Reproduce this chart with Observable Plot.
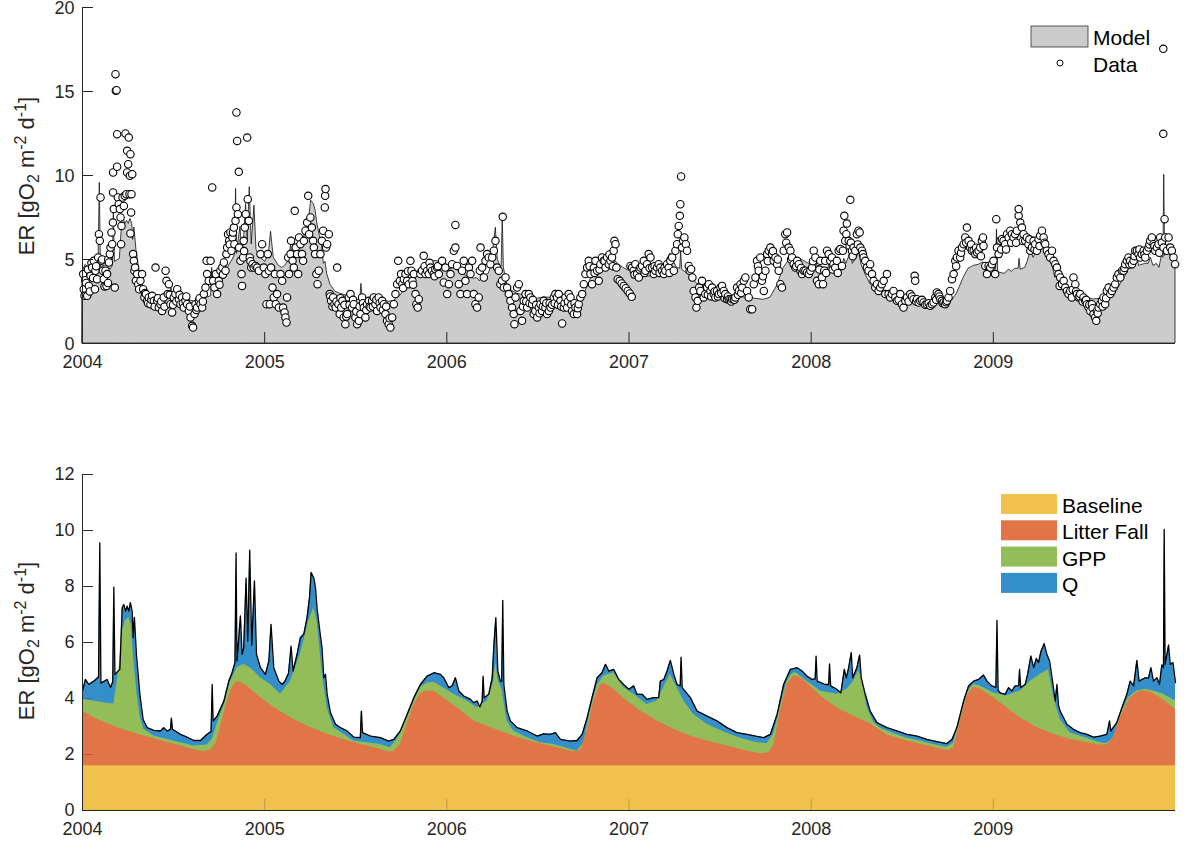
<!DOCTYPE html>
<html>
<head>
<meta charset="utf-8">
<script src="https://cdn.jsdelivr.net/npm/d3@7"></script>
<script src="https://cdn.jsdelivr.net/npm/@observablehq/plot@0.6"></script>
<style>
  body { margin: 0; background: #fff; }
  #wrap { position: relative; width: 1200px; height: 849px; overflow: hidden; }
  #wrap svg { position: absolute; left: 0; }
</style>
</head>
<body>
<div id="wrap"></div>
<script>
// Ecosystem respiration (ER), daily, 2004–2009. Time is given in decimal years.
const years = [2004, 2005, 2006, 2007, 2008, 2009];
const period = [2004, 2010];
const topTicks = [0, 5, 10, 15, 20];
const bottomTicks = [0, 2, 4, 6, 8, 10, 12];

// Modelled total ER (= Baseline + Litter Fall + GPP + Q), [year, gO2 m-2 d-1]
const modelTotal = [
  [2004.000,4.27],[2004.016,4.68],[2004.035,4.50],[2004.062,4.62],[2004.088,4.77],[2004.095,9.56],[2004.101,4.55],[2004.135,4.68],[2004.154,4.39],[2004.166,4.60],
  [2004.172,7.98],[2004.178,4.86],[2004.205,5.04],[2004.218,7.24],[2004.227,7.36],[2004.236,7.12],[2004.245,7.30],[2004.254,7.12],[2004.263,7.42],[2004.273,7.10],
  [2004.278,6.17],[2004.285,6.90],[2004.296,5.58],[2004.315,4.15],[2004.333,3.25],[2004.355,2.96],[2004.392,2.86],[2004.428,2.84],[2004.446,2.96],[2004.465,2.84],
  [2004.483,2.90],[2004.488,3.30],[2004.494,2.90],[2004.538,2.72],[2004.574,2.62],[2004.611,2.50],[2004.648,2.50],[2004.684,2.72],[2004.706,2.82],[2004.712,4.50],
  [2004.717,3.20],[2004.739,3.37],[2004.776,3.90],[2004.803,4.62],[2004.821,4.92],[2004.837,5.28],[2004.843,9.20],[2004.848,5.34],[2004.867,6.95],[2004.876,5.58],
  [2004.885,5.80],[2004.898,8.30],[2004.907,6.05],[2004.918,9.30],[2004.929,5.90],[2004.944,8.20],[2004.955,5.58],[2004.977,5.10],[2005.004,4.86],[2005.023,5.34],
  [2005.035,6.65],[2005.050,5.10],[2005.078,4.62],[2005.096,4.50],[2005.110,4.60],[2005.131,4.90],[2005.145,5.87],[2005.156,4.98],[2005.178,5.58],[2005.196,6.17],
  [2005.215,6.30],[2005.233,6.90],[2005.246,7.60],[2005.255,8.50],[2005.270,8.30],[2005.279,7.96],[2005.288,7.20],[2005.303,6.40],[2005.315,5.80],[2005.325,4.74],
  [2005.334,4.86],[2005.343,4.15],[2005.361,3.50],[2005.389,3.08],[2005.416,2.96],[2005.453,2.84],[2005.489,2.62],[2005.525,2.60],[2005.531,3.55],[2005.537,2.78],
  [2005.581,2.66],[2005.636,2.60],[2005.681,2.48],[2005.709,2.54],[2005.745,2.84],[2005.782,3.43],[2005.819,4.03],[2005.855,4.50],[2005.892,4.80],[2005.930,4.92],
  [2005.965,4.86],[2005.983,4.74],[2006.011,4.39],[2006.029,4.45],[2006.047,4.74],[2006.066,4.27],[2006.093,4.09],[2006.130,3.97],[2006.148,3.85],[2006.166,3.91],
  [2006.181,3.70],[2006.194,3.90],[2006.199,4.80],[2006.205,4.03],[2006.230,4.15],[2006.249,4.74],[2006.258,5.87],[2006.269,6.89],[2006.280,4.98],[2006.294,4.62],
  [2006.301,4.60],[2006.307,7.50],[2006.313,4.50],[2006.331,3.55],[2006.349,3.20],[2006.386,2.96],[2006.441,2.84],[2006.496,2.66],[2006.532,2.74],[2006.569,2.72],
  [2006.596,2.78],[2006.624,2.54],[2006.679,2.48],[2006.715,2.50],[2006.743,2.72],[2006.770,3.31],[2006.797,4.03],[2006.825,4.74],[2006.852,4.92],[2006.871,5.22],
  [2006.889,4.98],[2006.916,5.04],[2006.944,4.68],[2006.971,4.50],[2006.999,4.33],[2007.026,4.45],[2007.044,4.15],[2007.072,4.15],[2007.099,3.97],[2007.136,4.03],
  [2007.163,4.03],[2007.172,4.62],[2007.191,4.68],[2007.209,4.98],[2007.227,5.36],[2007.246,4.86],[2007.264,4.50],[2007.281,4.45],[2007.286,5.48],[2007.292,4.39],
  [2007.337,4.03],[2007.374,3.55],[2007.429,3.37],[2007.483,3.20],[2007.538,2.96],[2007.593,2.78],[2007.648,2.72],[2007.694,2.66],[2007.740,2.60],[2007.776,2.72],
  [2007.813,3.43],[2007.849,4.50],[2007.886,5.04],[2007.923,5.10],[2007.950,4.98],[2007.977,4.80],[2008.005,4.68],[2008.022,4.70],[2008.027,5.51],[2008.033,4.62],
  [2008.077,4.50],[2008.096,4.50],[2008.101,5.24],[2008.107,4.45],[2008.141,4.33],[2008.163,4.20],[2008.182,5.04],[2008.193,4.74],[2008.206,5.10],[2008.220,5.64],
  [2008.228,4.74],[2008.251,5.10],[2008.266,5.55],[2008.275,4.74],[2008.297,4.15],[2008.324,3.55],[2008.361,3.14],[2008.416,2.96],[2008.471,2.84],[2008.526,2.72],
  [2008.581,2.66],[2008.635,2.54],[2008.690,2.46],[2008.745,2.39],[2008.773,2.54],[2008.800,2.96],[2008.837,3.91],[2008.864,4.45],[2008.892,4.62],[2008.919,4.68],
  [2008.946,4.84],[2008.965,4.62],[2008.992,4.45],[2009.014,4.40],[2009.020,6.79],[2009.026,4.30],[2009.038,4.20],[2009.065,4.15],[2009.084,4.39],[2009.102,4.27],
  [2009.120,4.45],[2009.139,4.45],[2009.144,5.04],[2009.150,4.39],[2009.175,4.50],[2009.188,4.86],[2009.206,5.52],[2009.221,5.10],[2009.236,5.43],[2009.248,5.28],
  [2009.261,5.67],[2009.279,5.96],[2009.294,5.58],[2009.309,5.34],[2009.325,4.62],[2009.340,3.91],[2009.349,4.50],[2009.358,3.75],[2009.367,3.55],[2009.404,3.08],
  [2009.440,2.90],[2009.477,2.78],[2009.514,2.72],[2009.550,2.62],[2009.587,2.66],[2009.623,2.72],[2009.638,3.20],[2009.645,2.84],[2009.678,3.14],[2009.706,3.67],
  [2009.733,4.15],[2009.751,4.62],[2009.770,4.45],[2009.788,5.36],[2009.800,4.62],[2009.834,4.74],[2009.852,4.74],[2009.865,5.10],[2009.879,4.62],[2009.898,4.74],
  [2009.912,4.50],[2009.925,5.20],[2009.934,5.10],[2009.938,10.04],[2009.943,5.22],[2009.962,5.91],[2009.971,5.22],[2009.986,5.28],[2010.000,4.57]
];

// Upper edge of the Baseline + Litter Fall + GPP layers
const gppUpper = [
  [2004.000,3.97],[2004.117,3.85],[2004.172,3.80],[2004.199,4.98],[2004.218,6.40],[2004.236,6.77],[2004.254,6.90],[2004.267,6.65],[2004.282,5.34],[2004.300,4.15],
  [2004.318,3.30],[2004.337,2.90],[2004.392,2.66],[2004.465,2.54],[2004.538,2.42],[2004.611,2.30],[2004.684,2.34],[2004.712,2.54],[2004.739,3.08],[2004.776,3.75],
  [2004.812,4.60],[2004.849,5.10],[2004.885,5.22],[2004.922,5.10],[2004.977,4.74],[2005.032,4.50],[2005.087,4.15],[2005.142,4.62],[2005.196,5.58],[2005.242,6.77],
  [2005.270,7.24],[2005.288,6.77],[2005.315,4.98],[2005.343,3.67],[2005.379,2.96],[2005.434,2.72],[2005.489,2.48],[2005.562,2.42],[2005.636,2.36],[2005.690,2.24],
  [2005.727,2.54],[2005.782,3.30],[2005.819,3.90],[2005.855,4.39],[2005.892,4.55],[2005.930,4.58],[2005.965,4.45],[2006.038,4.15],[2006.111,3.91],[2006.166,3.67],
  [2006.221,3.91],[2006.258,4.62],[2006.269,5.30],[2006.280,4.70],[2006.303,4.30],[2006.331,3.20],[2006.367,2.84],[2006.441,2.60],[2006.514,2.42],[2006.587,2.36],
  [2006.660,2.22],[2006.715,2.12],[2006.752,2.42],[2006.788,3.55],[2006.825,4.45],[2006.861,4.80],[2006.916,4.92],[2006.971,4.39],[2007.026,4.15],[2007.099,3.79],
  [2007.154,3.91],[2007.191,4.39],[2007.227,4.86],[2007.264,4.39],[2007.301,3.91],[2007.355,3.43],[2007.429,3.08],[2007.520,2.80],[2007.612,2.58],[2007.703,2.42],
  [2007.758,2.39],[2007.794,2.72],[2007.849,4.15],[2007.868,4.62],[2007.886,4.80],[2007.905,4.92],[2007.923,4.89],[2007.977,4.62],[2008.050,4.27],[2008.141,4.15],
  [2008.196,4.33],[2008.233,4.62],[2008.260,4.98],[2008.279,4.70],[2008.306,3.70],[2008.343,3.15],[2008.379,2.94],[2008.452,2.75],[2008.526,2.58],[2008.599,2.48],
  [2008.672,2.36],[2008.745,2.26],[2008.782,2.40],[2008.818,3.31],[2008.855,4.20],[2008.892,4.50],[2008.928,4.45],[2009.001,4.20],[2009.075,4.09],[2009.148,4.27],
  [2009.203,4.62],[2009.257,4.86],[2009.303,5.04],[2009.331,4.05],[2009.367,3.25],[2009.422,2.78],[2009.514,2.58],[2009.587,2.42],[2009.623,2.39],[2009.660,2.60],
  [2009.697,3.40],[2009.742,4.03],[2009.788,4.27],[2009.834,4.33],[2009.879,4.27],[2009.934,4.15],[2010.000,3.91]
];

// Upper edge of the Baseline + Litter Fall layers
const litterUpper = [
  [2004.000,3.55],[2004.062,3.31],[2004.154,3.05],[2004.245,2.84],[2004.337,2.66],[2004.428,2.50],[2004.520,2.34],[2004.611,2.18],[2004.666,2.10],[2004.703,2.15],
  [2004.730,2.36],[2004.757,2.96],[2004.785,3.67],[2004.812,4.27],[2004.840,4.57],[2004.858,4.60],[2004.904,4.45],[2004.977,4.03],[2005.068,3.61],[2005.160,3.25],
  [2005.251,2.96],[2005.343,2.72],[2005.434,2.54],[2005.526,2.36],[2005.617,2.22],[2005.681,2.09],[2005.709,2.12],[2005.745,2.36],[2005.782,3.08],[2005.819,3.79],
  [2005.855,4.17],[2005.892,4.27],[2005.928,4.27],[2005.975,4.05],[2006.060,3.65],[2006.148,3.20],[2006.239,2.96],[2006.331,2.74],[2006.422,2.54],[2006.514,2.39],
  [2006.605,2.24],[2006.697,2.10],[2006.733,2.14],[2006.770,2.84],[2006.807,3.91],[2006.843,4.51],[2006.871,4.53],[2006.916,4.33],[2006.989,3.91],[2007.063,3.55],
  [2007.154,3.20],[2007.246,2.90],[2007.337,2.66],[2007.429,2.48],[2007.520,2.34],[2007.612,2.18],[2007.721,2.03],[2007.767,2.06],[2007.794,2.30],[2007.831,3.55],
  [2007.868,4.51],[2007.904,4.80],[2007.932,4.77],[2007.977,4.56],[2008.050,4.10],[2008.141,3.67],[2008.233,3.37],[2008.324,3.10],[2008.416,2.70],[2008.507,2.52],
  [2008.599,2.37],[2008.690,2.22],[2008.754,2.13],[2008.782,2.24],[2008.818,3.15],[2008.855,4.09],[2008.892,4.41],[2008.928,4.33],[2009.001,4.03],[2009.075,3.67],
  [2009.148,3.31],[2009.239,2.96],[2009.331,2.72],[2009.422,2.54],[2009.514,2.42],[2009.587,2.34],[2009.623,2.34],[2009.660,2.60],[2009.697,3.31],[2009.751,4.03],
  [2009.806,4.27],[2009.861,4.24],[2009.916,4.03],[2010.000,3.61]
];

// Constant baseline respiration
const baselineER = 1.6;

// Observed daily ER, one array per year
const obs2004 = [
  [2004.004,4.13],[2004.007,3.23],[2004.011,2.84],[2004.016,3.77],[2004.020,3.60],[2004.026,2.84],[2004.030,4.40],[2004.035,3.43],[2004.040,3.10],[2004.044,4.03],
  [2004.049,4.80],[2004.053,4.52],[2004.058,3.90],[2004.062,4.92],[2004.068,3.23],[2004.071,4.33],[2004.075,4.60],[2004.080,3.83],[2004.086,5.12],[2004.090,6.51],
  [2004.095,6.11],[2004.099,8.69],[2004.104,4.92],[2004.108,5.00],[2004.112,4.33],[2004.117,3.83],[2004.121,3.40],[2004.126,4.33],[2004.132,3.43],[2004.135,4.13],
  [2004.140,3.60],[2004.141,5.00],[2004.145,4.82],[2004.150,5.32],[2004.154,5.71],[2004.159,6.61],[2004.163,5.91],[2004.167,7.20],[2004.168,8.99],[2004.168,10.18],
  [2004.172,8.00],[2004.177,3.33],[2004.181,16.03],[2004.183,15.04],[2004.187,15.08],[2004.190,12.46],[2004.190,10.52],[2004.194,8.69],[2004.199,8.29],[2004.205,8.00],
  [2004.209,7.50],[2004.212,5.91],[2004.214,7.00],[2004.220,8.69],[2004.227,8.19],[2004.232,8.79],[2004.236,12.50],[2004.241,8.89],[2004.245,11.47],[2004.245,10.18],
  [2004.251,10.67],[2004.254,12.26],[2004.258,8.89],[2004.260,9.98],[2004.263,11.27],[2004.267,7.80],[2004.269,8.89],[2004.273,10.08],[2004.263,6.55],[2004.278,5.32],
  [2004.282,4.92],[2004.285,4.33],[2004.289,4.52],[2004.293,3.73],[2004.300,4.13],[2004.306,3.53],[2004.311,3.23],[2004.318,3.73],[2004.327,4.13],[2004.333,3.23],
  [2004.340,2.74],[2004.343,3.00],[2004.348,2.94],[2004.355,2.54],[2004.360,2.40],[2004.364,2.74],[2004.373,2.34],[2004.378,2.60],[2004.382,2.84],[2004.392,2.54],
  [2004.396,2.20],[2004.401,4.52],[2004.410,2.54],[2004.414,2.70],[2004.419,2.14],[2004.428,2.34],[2004.432,2.50],[2004.437,1.94],[2004.446,2.74],[2004.450,2.20],
  [2004.456,4.33],[2004.461,3.73],[2004.468,2.94],[2004.474,3.53],[2004.479,2.90],[2004.483,2.34],[2004.492,1.85],[2004.497,2.30],[2004.501,2.74],[2004.510,2.94],
  [2004.515,2.50],[2004.520,3.23],[2004.529,2.64],[2004.533,2.90],[2004.538,2.34],[2004.547,2.74],[2004.551,2.40],[2004.556,2.14],[2004.565,2.54],[2004.570,2.80],
  [2004.574,2.34],[2004.584,1.94],[2004.589,2.20],[2004.593,1.55],[2004.602,1.05],[2004.607,0.95],[2004.615,1.75],[2004.620,2.34],[2004.625,2.00],[2004.629,2.14],
  [2004.639,2.54],[2004.643,2.70],[2004.648,2.34],[2004.657,2.14],[2004.661,2.50],[2004.666,2.94],[2004.675,3.33],[2004.681,4.92],[2004.684,4.13],[2004.693,3.73],
  [2004.703,4.92],[2004.712,9.29],[2004.717,3.73],[2004.724,3.33],[2004.732,4.13],[2004.739,2.94],[2004.748,3.73],[2004.752,3.50],[2004.757,4.33],[2004.767,4.52],
  [2004.771,4.10],[2004.776,4.82],[2004.785,4.33],[2004.790,5.32],[2004.794,5.71],[2004.799,6.51],[2004.805,6.11],[2004.808,5.90],[2004.812,6.61],[2004.818,5.52],
  [2004.823,6.31],[2004.826,6.60],[2004.831,6.90],[2004.834,5.91],[2004.840,7.30],[2004.845,8.10],[2004.845,13.75],[2004.849,12.06],[2004.853,7.70],[2004.858,10.22],
  [2004.860,5.71],[2004.867,4.92],[2004.873,4.13],[2004.876,3.43],[2004.882,5.12],[2004.885,6.11],[2004.887,5.50],[2004.891,6.90],[2004.896,7.70],[2004.904,12.26],
  [2004.907,8.59],[2004.913,7.30],[2004.918,5.12],[2004.922,4.90],[2004.926,4.52],[2004.933,4.72],[2004.940,4.52],[2004.950,4.62],[2004.959,4.52],[2004.968,4.33],
  [2004.977,5.32],[2004.986,5.91],[2004.995,4.52]
];
const obs2005 = [
  [2005.004,4.13],[2005.010,2.34],[2005.017,5.32],[2005.023,4.33],[2005.028,2.34],[2005.035,4.52],[2005.043,3.33],[2005.050,2.74],[2005.056,4.13],[2005.061,2.34],
  [2005.068,2.94],[2005.078,2.14],[2005.087,4.13],[2005.096,3.73],[2005.101,2.14],[2005.109,1.85],[2005.114,1.55],[2005.120,1.25],[2005.123,2.74],[2005.129,5.12],
  [2005.134,4.13],[2005.142,5.32],[2005.145,6.11],[2005.153,4.92],[2005.160,4.52],[2005.165,7.90],[2005.171,5.71],[2005.178,5.32],[2005.184,4.13],[2005.189,6.31],
  [2005.196,5.91],[2005.205,5.32],[2005.211,4.92],[2005.215,6.11],[2005.224,6.71],[2005.233,7.20],[2005.239,8.79],[2005.244,6.51],[2005.251,7.50],[2005.259,6.90],
  [2005.266,6.11],[2005.270,5.71],[2005.277,5.32],[2005.284,4.13],[2005.290,3.53],[2005.297,4.33],[2005.306,5.32],[2005.314,6.11],[2005.321,6.71],[2005.330,8.10],
  [2005.332,8.79],[2005.334,9.19],[2005.337,5.71],[2005.343,5.91],[2005.352,6.51],[2005.357,2.94],[2005.360,2.80],[2005.365,2.54],[2005.372,2.20],[2005.376,2.74],
  [2005.383,2.34],[2005.390,2.14],[2005.394,2.50],[2005.398,4.52],[2005.405,2.34],[2005.412,1.75],[2005.416,2.70],[2005.420,2.14],[2005.427,2.54],[2005.434,1.55],
  [2005.438,2.30],[2005.443,1.15],[2005.448,1.60],[2005.453,1.75],[2005.462,2.74],[2005.466,2.30],[2005.471,2.94],[2005.480,2.14],[2005.485,2.60],[2005.489,2.34],
  [2005.498,1.55],[2005.503,1.90],[2005.508,1.15],[2005.517,1.35],[2005.521,2.20],[2005.526,1.75],[2005.535,2.74],[2005.540,2.40],[2005.544,2.14],[2005.553,1.55],
  [2005.558,2.00],[2005.562,2.34],[2005.572,2.54],[2005.576,2.20],[2005.581,2.14],[2005.590,2.54],[2005.594,2.20],[2005.599,2.74],[2005.608,2.34],[2005.613,2.60],
  [2005.617,1.94],[2005.626,2.74],[2005.631,2.40],[2005.636,2.14],[2005.645,2.54],[2005.649,2.00],[2005.654,2.34],[2005.663,1.75],[2005.667,2.20],[2005.672,1.35],
  [2005.681,1.15],[2005.686,1.50],[2005.690,0.95],[2005.700,1.55],[2005.709,2.34],[2005.718,2.94],[2005.727,3.53],[2005.733,4.92],[2005.742,3.73],[2005.749,4.13],
  [2005.756,3.53],[2005.760,3.30],[2005.764,3.83],[2005.773,4.13],[2005.782,3.73],[2005.787,4.30],[2005.791,3.53],[2005.800,4.92],[2005.806,4.33],[2005.811,3.73],
  [2005.815,3.50],[2005.819,4.13],[2005.828,2.94],[2005.833,2.34],[2005.840,2.14],[2005.846,2.64],[2005.855,4.13],[2005.864,4.33],[2005.873,5.22],[2005.878,4.60],
  [2005.883,4.13],[2005.892,4.33],[2005.901,4.13],[2005.905,4.80],[2005.910,4.52],[2005.919,4.33],[2005.928,4.13],[2005.933,4.00],[2005.937,4.43],[2005.947,4.52],
  [2005.951,4.60],[2005.956,4.13],[2005.974,4.92],[2005.983,3.63],[2005.992,4.52]
];
const obs2006 = [
  [2006.002,2.94],[2006.011,3.53],[2006.020,4.13],[2006.029,4.72],[2006.038,5.52],[2006.047,5.71],[2006.047,7.06],[2006.056,4.62],[2006.066,3.53],[2006.075,2.94],
  [2006.084,4.33],[2006.093,4.92],[2006.102,3.73],[2006.111,2.94],[2006.121,4.52],[2006.130,4.13],[2006.139,4.92],[2006.148,2.94],[2006.157,2.34],[2006.166,2.14],
  [2006.175,2.74],[2006.181,4.33],[2006.185,5.71],[2006.194,4.52],[2006.203,3.93],[2006.212,4.92],[2006.221,5.32],[2006.230,5.12],[2006.239,4.72],[2006.249,5.12],
  [2006.258,5.52],[2006.267,6.11],[2006.276,4.52],[2006.285,4.33],[2006.294,3.53],[2006.303,3.73],[2006.307,7.54],[2006.313,3.33],[2006.322,3.93],[2006.331,3.33],
  [2006.340,2.94],[2006.349,2.54],[2006.358,2.14],[2006.367,1.75],[2006.371,1.15],[2006.377,2.74],[2006.386,3.33],[2006.395,3.53],[2006.404,1.94],[2006.413,1.35],
  [2006.418,2.20],[2006.422,2.54],[2006.432,2.94],[2006.436,2.50],[2006.441,2.14],[2006.450,2.94],[2006.454,2.40],[2006.459,2.74],[2006.468,2.34],[2006.472,2.60],
  [2006.477,1.75],[2006.486,1.94],[2006.490,2.30],[2006.496,1.55],[2006.505,2.14],[2006.509,1.80],[2006.514,2.34],[2006.523,1.94],[2006.527,2.20],[2006.532,2.54],
  [2006.541,2.14],[2006.546,2.40],[2006.550,1.75],[2006.560,1.94],[2006.564,2.40],[2006.569,2.14],[2006.578,2.30],[2006.587,2.74],[2006.592,2.40],[2006.596,2.94],
  [2006.605,2.74],[2006.610,2.30],[2006.614,2.94],[2006.624,2.54],[2006.628,2.20],[2006.633,1.19],[2006.642,2.14],[2006.646,2.40],[2006.651,2.74],[2006.660,2.14],
  [2006.665,2.50],[2006.669,2.94],[2006.679,2.74],[2006.683,2.30],[2006.688,1.94],[2006.697,1.75],[2006.701,2.40],[2006.706,2.14],[2006.715,1.75],[2006.719,2.10],
  [2006.724,2.34],[2006.733,2.74],[2006.743,2.94],[2006.752,3.53],[2006.761,4.13],[2006.770,4.52],[2006.779,4.92],[2006.784,4.60],[2006.788,4.13],[2006.797,3.53],
  [2006.807,4.52],[2006.811,4.20],[2006.816,4.92],[2006.825,4.33],[2006.834,3.73],[2006.838,4.40],[2006.843,4.72],[2006.852,5.12],[2006.861,4.92],[2006.866,4.90],
  [2006.871,4.52],[2006.880,5.12],[2006.889,4.72],[2006.893,5.30],[2006.898,4.92],[2006.907,5.12],[2006.911,4.60],[2006.916,5.52],[2006.920,6.11],[2006.926,5.91],
  [2006.931,4.52],[2006.938,3.83],[2006.949,3.73],[2006.960,3.57],[2006.971,3.43],[2006.982,3.29],[2006.993,3.13]
];
const obs2007 = [
  [2007.004,2.98],[2007.015,2.78],[2007.008,4.62],[2007.017,4.52],[2007.026,4.33],[2007.030,4.10],[2007.035,4.72],[2007.044,4.13],[2007.054,3.93],[2007.058,4.40],
  [2007.063,4.52],[2007.072,4.62],[2007.081,4.92],[2007.085,4.20],[2007.090,4.33],[2007.099,4.72],[2007.108,5.32],[2007.113,4.50],[2007.118,5.12],[2007.127,4.52],
  [2007.136,4.13],[2007.140,4.60],[2007.145,4.33],[2007.154,4.52],[2007.163,4.72],[2007.168,4.20],[2007.172,4.52],[2007.182,4.33],[2007.191,4.13],[2007.195,4.50],
  [2007.200,4.33],[2007.209,4.72],[2007.218,4.52],[2007.222,4.20],[2007.227,4.92],[2007.237,5.12],[2007.246,4.33],[2007.255,5.52],[2007.264,5.91],[2007.268,6.51],
  [2007.273,7.00],[2007.279,7.60],[2007.282,8.29],[2007.286,9.94],[2007.291,5.71],[2007.297,6.11],[2007.304,6.31],[2007.312,5.91],[2007.319,5.52],[2007.328,4.62],
  [2007.333,4.33],[2007.341,4.42],[2007.348,3.93],[2007.355,3.13],[2007.365,2.74],[2007.370,2.14],[2007.377,2.54],[2007.385,3.33],[2007.392,3.13],[2007.401,3.73],
  [2007.410,2.74],[2007.419,2.94],[2007.429,3.33],[2007.433,2.90],[2007.438,3.53],[2007.447,3.13],[2007.451,2.80],[2007.456,3.33],[2007.465,2.94],[2007.470,3.10],
  [2007.474,2.74],[2007.483,3.13],[2007.488,2.80],[2007.493,2.94],[2007.502,3.33],[2007.506,3.00],[2007.511,3.43],[2007.520,3.13],[2007.525,2.70],[2007.529,2.94],
  [2007.538,2.64],[2007.543,2.80],[2007.548,2.64],[2007.557,2.64],[2007.561,2.50],[2007.566,2.64],[2007.575,2.64],[2007.579,2.60],[2007.584,2.74],[2007.593,3.33],
  [2007.598,2.90],[2007.603,3.13],[2007.612,3.53],[2007.616,3.00],[2007.621,3.33],[2007.630,3.73],[2007.639,3.93],[2007.648,3.13],[2007.657,2.74],[2007.666,2.04],
  [2007.676,2.04],[2007.685,3.53],[2007.694,3.93],[2007.703,4.92],[2007.708,4.60],[2007.712,4.33],[2007.721,5.12],[2007.730,3.73],[2007.735,4.00],[2007.740,3.13],
  [2007.749,4.33],[2007.758,5.32],[2007.762,4.90],[2007.767,5.52],[2007.776,5.71],[2007.785,5.32],[2007.790,5.50],[2007.794,4.92],[2007.804,5.12],[2007.813,4.72],
  [2007.817,5.00],[2007.822,4.33],[2007.831,3.53],[2007.840,3.33],[2007.849,5.52],[2007.858,6.51],[2007.863,6.00],[2007.868,6.61],[2007.877,5.71],[2007.886,5.52],
  [2007.890,5.00],[2007.895,5.12],[2007.904,4.72],[2007.913,4.52],[2007.918,4.60],[2007.923,4.92],[2007.932,4.72],[2007.941,4.33],[2007.945,4.50],[2007.950,4.13],
  [2007.959,4.33],[2007.968,4.33],[2007.977,4.23],[2007.987,4.13],[2007.996,4.33]
];
const obs2008 = [
  [2008.005,4.52],[2008.010,4.90],[2008.014,5.52],[2008.023,5.12],[2008.032,3.73],[2008.042,3.53],[2008.045,4.40],[2008.050,4.92],[2008.059,3.93],[2008.065,3.53],
  [2008.072,4.33],[2008.077,4.92],[2008.082,4.20],[2008.087,5.52],[2008.096,5.32],[2008.105,4.92],[2008.114,5.12],[2008.118,4.40],[2008.123,4.72],[2008.132,4.52],
  [2008.141,4.92],[2008.146,4.20],[2008.151,5.52],[2008.160,5.62],[2008.169,4.62],[2008.174,5.52],[2008.178,6.71],[2008.182,7.60],[2008.187,6.11],[2008.193,6.51],
  [2008.196,7.14],[2008.206,6.11],[2008.211,5.81],[2008.215,8.55],[2008.218,6.01],[2008.224,5.52],[2008.228,5.20],[2008.233,5.71],[2008.242,5.52],[2008.251,6.51],
  [2008.256,5.90],[2008.260,6.71],[2008.266,6.61],[2008.270,5.71],[2008.279,5.52],[2008.284,5.32],[2008.288,5.12],[2008.297,4.92],[2008.306,4.52],[2008.315,4.33],
  [2008.324,4.72],[2008.334,4.13],[2008.343,3.73],[2008.352,3.33],[2008.361,3.53],[2008.370,3.13],[2008.379,3.33],[2008.388,3.53],[2008.398,3.73],[2008.407,2.94],
  [2008.416,4.13],[2008.425,2.94],[2008.434,2.74],[2008.443,2.94],[2008.452,3.13],[2008.462,2.74],[2008.471,2.54],[2008.480,2.60],[2008.489,2.94],[2008.498,2.34],
  [2008.507,2.14],[2008.517,2.54],[2008.526,2.74],[2008.535,2.50],[2008.544,2.94],[2008.553,2.80],[2008.562,2.64],[2008.568,4.03],[2008.571,3.73],[2008.576,2.50],
  [2008.581,2.64],[2008.590,2.44],[2008.599,2.54],[2008.608,2.60],[2008.617,2.44],[2008.626,2.30],[2008.635,2.34],[2008.645,2.40],[2008.654,2.24],[2008.663,2.34],
  [2008.672,2.44],[2008.681,2.74],[2008.686,2.60],[2008.690,3.04],[2008.699,2.94],[2008.704,2.80],[2008.709,2.64],[2008.718,2.54],[2008.722,2.40],[2008.727,2.44],
  [2008.736,2.34],[2008.741,2.45],[2008.745,2.54],[2008.754,2.74],[2008.763,3.13],[2008.773,3.83],[2008.782,4.13],[2008.791,4.92],[2008.796,4.60],[2008.800,5.12],
  [2008.809,5.52],[2008.818,5.12],[2008.823,5.40],[2008.828,5.71],[2008.837,5.91],[2008.846,6.31],[2008.851,6.00],[2008.855,6.90],[2008.864,6.11],[2008.873,5.71],
  [2008.878,5.90],[2008.882,5.52],[2008.892,5.52],[2008.901,5.32],[2008.905,5.70],[2008.910,5.42],[2008.919,5.52],[2008.928,5.71],[2008.932,5.20],[2008.937,6.11],
  [2008.943,6.31],[2008.946,5.81],[2008.956,4.62],[2008.965,4.13],[2008.974,4.62],[2008.983,4.52],[2008.992,4.72]
];
const obs2009 = [
  [2009.001,4.92],[2009.010,4.13],[2009.016,7.40],[2009.020,5.71],[2009.029,5.32],[2009.038,6.11],[2009.043,5.60],[2009.047,6.21],[2009.056,6.11],[2009.065,5.91],
  [2009.070,5.60],[2009.075,6.51],[2009.084,6.31],[2009.093,6.71],[2009.098,6.00],[2009.102,6.51],[2009.111,6.31],[2009.120,6.51],[2009.125,6.00],[2009.129,6.71],
  [2009.139,7.60],[2009.139,8.00],[2009.148,7.20],[2009.157,6.90],[2009.162,6.10],[2009.166,6.51],[2009.175,6.11],[2009.184,6.31],[2009.193,5.91],[2009.198,6.20],
  [2009.203,5.52],[2009.212,5.71],[2009.221,6.11],[2009.226,5.60],[2009.230,5.91],[2009.239,5.52],[2009.248,6.21],[2009.253,5.80],[2009.257,6.41],[2009.267,6.71],
  [2009.276,6.31],[2009.281,6.00],[2009.285,5.91],[2009.294,5.52],[2009.303,5.32],[2009.312,5.12],[2009.322,5.52],[2009.331,4.92],[2009.340,4.72],[2009.349,4.52],
  [2009.358,4.13],[2009.364,3.43],[2009.367,3.93],[2009.377,3.53],[2009.386,3.73],[2009.395,3.33],[2009.404,3.13],[2009.413,2.94],[2009.422,3.13],[2009.431,2.74],
  [2009.436,3.20],[2009.440,3.93],[2009.450,3.53],[2009.454,3.10],[2009.459,2.94],[2009.468,2.74],[2009.473,2.80],[2009.477,2.94],[2009.490,2.50],[2009.495,2.74],
  [2009.504,2.54],[2009.509,2.60],[2009.514,2.34],[2009.523,2.14],[2009.527,2.30],[2009.532,1.94],[2009.541,2.34],[2009.545,2.10],[2009.550,1.75],[2009.559,1.55],
  [2009.565,1.35],[2009.568,1.94],[2009.573,1.80],[2009.578,2.14],[2009.587,2.34],[2009.596,2.54],[2009.600,2.20],[2009.605,2.74],[2009.614,2.34],[2009.619,2.70],
  [2009.623,3.13],[2009.633,3.33],[2009.642,2.94],[2009.651,3.13],[2009.660,3.33],[2009.669,3.53],[2009.678,3.93],[2009.687,4.13],[2009.697,3.93],[2009.706,4.33],
  [2009.715,4.33],[2009.720,4.50],[2009.724,4.72],[2009.733,4.92],[2009.742,5.12],[2009.747,4.70],[2009.751,4.92],[2009.761,4.72],[2009.770,4.92],[2009.775,5.20],
  [2009.779,5.52],[2009.788,5.52],[2009.797,5.32],[2009.802,5.60],[2009.806,5.12],[2009.815,5.32],[2009.825,5.52],[2009.830,5.30],[2009.834,5.12],[2009.843,5.52],
  [2009.852,5.71],[2009.857,5.90],[2009.861,6.11],[2009.870,6.31],[2009.879,5.91],[2009.884,5.80],[2009.889,5.52],[2009.898,5.71],[2009.907,5.91],[2009.911,5.40],
  [2009.916,6.31],[2009.925,6.01],[2009.934,5.71],[2009.933,17.54],[2009.933,12.48],[2009.940,7.40],[2009.944,6.31],[2009.953,5.52],[2009.962,6.31],[2009.971,5.71],
  [2009.980,5.52],[2009.989,5.12],[2009.998,4.72]
];

const layerNames = ["Baseline", "Litter Fall", "GPP", "Q"];
const layerColors = ["#F1C14D", "#E17547", "#92BD59", "#338ECA"];

// ---- drawing ----
const FONT = '"Liberation Sans", Arial, Helvetica, sans-serif';
const INK = "#262626";
const asRows = pairs => pairs.map(([t, v]) => ({t, v}));
const model = asRows(modelTotal);
const observed = asRows([...obs2004, ...obs2005, ...obs2006, ...obs2007, ...obs2008, ...obs2009]);
const gpp = asRows(gppUpper);
const litter = asRows(litterUpper);
const baseline = period.map(t => ({t, v: baselineER}));
const yearFormat = d => String(d);

const common = {
  width: 1200, marginLeft: 82, marginRight: 25,
  style: {fontFamily: FONT, fontSize: "18px", color: INK, background: "transparent", overflow: "visible"},
  x: {domain: period}
};

const topPlot = Plot.plot({
  ...common,
  height: 380, marginTop: 7, marginBottom: 37,
  y: {domain: [0, 20]},
  marks: [
    Plot.areaY(model, {x: "t", y: "v", fill: "#cccccc", stroke: "#111", strokeWidth: 0.8}),
    Plot.dot(observed, {x: "t", y: "v", r: 3.7, fill: "white", stroke: "black", strokeWidth: 1.1}),
    Plot.axisY({ticks: topTicks, tickSize: 0, tickPadding: 8, dy: 1, label: null}),
    Plot.axisY({ticks: topTicks, tickSize: -11, tickFormat: () => "", label: null}),
    Plot.axisX({ticks: years, tickFormat: yearFormat, tickSize: -11, tickPadding: 23, label: null}),
    Plot.ruleY([0], {stroke: INK}),
    Plot.ruleX([period[0]], {stroke: INK})
  ]
});

const bottomPlot = Plot.plot({
  ...common,
  height: 469, marginTop: 94, marginBottom: 39,
  y: {domain: [0, 12]},
  marks: [
    Plot.axisY({ticks: bottomTicks, tickSize: -11, tickPadding: 19, label: null}),
    Plot.axisX({ticks: years, tickFormat: yearFormat, tickSize: -11, tickPadding: 23, label: null}),
    Plot.areaY(model, {x: "t", y: "v", fill: layerColors[3]}),
    Plot.areaY(gpp, {x: "t", y: "v", fill: layerColors[2]}),
    Plot.areaY(litter, {x: "t", y: "v", fill: layerColors[1]}),
    Plot.areaY(baseline, {x: "t", y: "v", fill: layerColors[0]}),
    Plot.lineY(model, {x: "t", y: "v", stroke: "#000", strokeWidth: 1.3}),
    // ticks show faintly through the filled layers
    Plot.axisY({ticks: bottomTicks, tickSize: -11, tickFormat: () => "", strokeOpacity: 0.25, label: null}),
    Plot.axisX({ticks: years, tickSize: -11, tickFormat: () => "", strokeOpacity: 0.25, label: null}),
    Plot.ruleY([0], {stroke: INK}),
    Plot.ruleX([period[0]], {stroke: INK})
  ]
});

const wrap = document.getElementById("wrap");
topPlot.style.top = "0px";
bottomPlot.style.top = "380px";
wrap.appendChild(topPlot);
wrap.appendChild(bottomPlot);

// y-axis title with sub- and superscripts
function yTitle(svg, cy) {
  const t = d3.select(svg).append("text")
    .attr("transform", `translate(34,${cy}) rotate(-90)`)
    .attr("text-anchor", "middle")
    .attr("font-family", FONT).attr("font-size", 22).attr("fill", INK);
  t.append("tspan").text("ER [gO");
  t.append("tspan").attr("dy", 5).attr("font-size", 16).text("2");
  t.append("tspan").attr("dy", -5).text(" m");
  t.append("tspan").attr("dy", -8).attr("font-size", 16).text("-2");
  t.append("tspan").attr("dy", 8).text(" d");
  t.append("tspan").attr("dy", -8).attr("font-size", 16).text("-1");
  t.append("tspan").attr("dy", 8).text("]");
}
yTitle(topPlot, 176);
yTitle(bottomPlot, 261);

// legend: model vs data
{
  const g = d3.select(topPlot).append("g")
    .attr("font-family", FONT).attr("font-size", 21).attr("fill", "#000").attr("text-anchor", "start");
  g.append("rect").attr("x", 1031).attr("y", 26).attr("width", 57).attr("height", 21)
    .attr("fill", "#cccccc").attr("stroke", "#333").attr("stroke-width", 0.8);
  g.append("text").attr("x", 1093).attr("y", 45).text("Model");
  g.append("circle").attr("cx", 1060).attr("cy", 63).attr("r", 3)
    .attr("fill", "white").attr("stroke", "#000").attr("stroke-width", 1);
  g.append("text").attr("x", 1093).attr("y", 72).text("Data");
}

// legend: contributions
{
  const g = d3.select(bottomPlot).append("g")
    .attr("font-family", FONT).attr("font-size", 21).attr("fill", "#000").attr("text-anchor", "start");
  layerNames.forEach((name, i) => {
    const y = 114 + i * 26.3;
    g.append("rect").attr("x", 1001).attr("y", y).attr("width", 56).attr("height", 20).attr("fill", layerColors[i]);
    g.append("text").attr("x", 1062).attr("y", y + 19).text(name);
  });
}
</script>
</body>
</html>
